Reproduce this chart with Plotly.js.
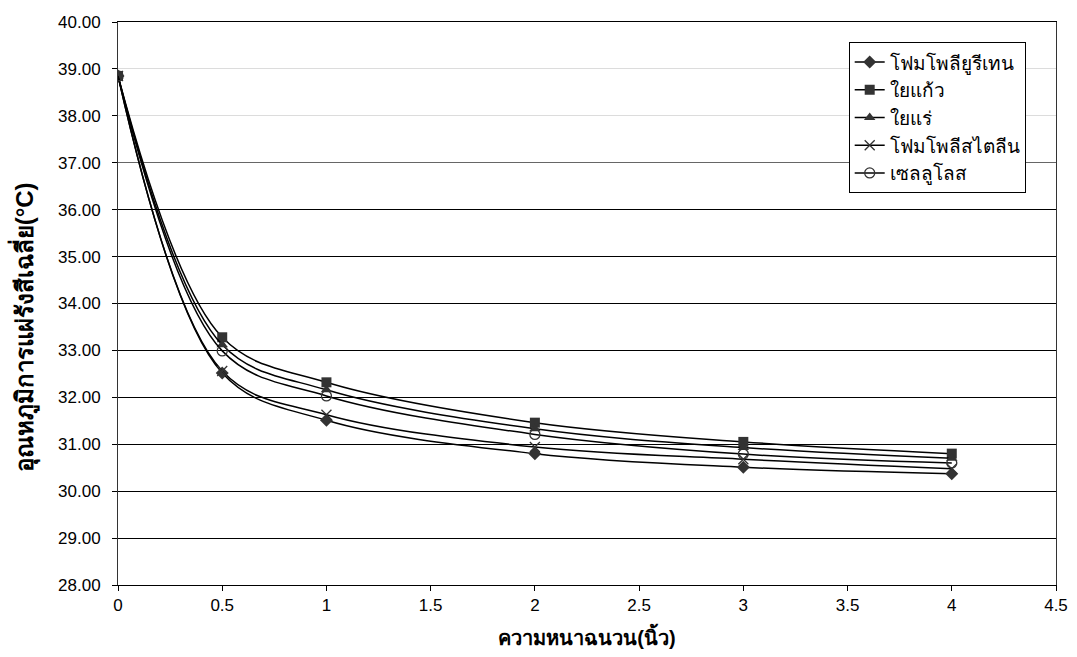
<!DOCTYPE html>
<html>
<head>
<meta charset="utf-8">
<script src="https://cdn.plot.ly/plotly-3.0.1.min.js"></script>
<style>html,body{margin:0;padding:0;background:#fff}#chart{width:1077px;height:657px}</style>
</head>
<body>
<div id="chart"></div>
<script>
const thickness = [0, 0.5, 1, 2, 3, 4];
const seriesNames = ["โฟมโพลียูรีเทน", "ใยแก้ว", "ใยแร่", "โฟมโพลีสไตลีน", "เซลลูโลส"];
const polyurethane = [38.85, 32.52, 31.51, 30.80, 30.51, 30.37];
const glassWool    = [38.85, 33.28, 32.32, 31.46, 31.05, 30.80];
const mineralWool  = [38.85, 33.12, 32.16, 31.33, 30.93, 30.70];
const polystyrene  = [38.85, 32.56, 31.63, 30.94, 30.68, 30.48];
const cellulose    = [38.85, 32.99, 32.03, 31.21, 30.79, 30.60];
const yTicks = [28,29,30,31,32,33,34,35,36,37,38,39,40];
const xTicks = [0,0.5,1,1.5,2,2.5,3,3.5,4,4.5];
const darkGridTicks = [29,30,31,32,33,34,35,36];
const midGridTicks = [37];
const xTitle = "ความหนาฉนวน(นิ้ว)";
const yTitle = "อุณหภูมิการแผ่รังสีเฉลี่ย(°C)";

const seriesValues = [polyurethane, glassWool, mineralWool, polystyrene, cellulose];
const symbols = ["diamond", "square", "triangle-up", "x-thin-open", "circle-open"];
const yAxesOf = ["y", "y", "y", "y2", "y3"];

const traces = seriesValues.map((vals, i) => ({
  x: thickness, y: vals, name: seriesNames[i], type: "scatter", mode: "lines+markers",
  yaxis: yAxesOf[i],
  line: {color: "#000", width: 1.5, shape: "spline", smoothing: 1},
  marker: {symbol: symbols[i], size: 10, color: "#333",
           line: {color: "#333", width: (symbols[i] === "x-thin-open" || symbols[i] === "circle-open") ? 1.3 : 0}}
}));

const font = "Liberation Sans, Arial, sans-serif";
const gridAxis = (vals, color) => ({
  overlaying: "y", anchor: "x", side: "left", range: [28, 40], tickvals: vals,
  showticklabels: false, ticks: "", showgrid: true, gridcolor: color, gridwidth: 1,
  zeroline: false, showline: false
});
const layout = {
  width: 1077, height: 657,
  margin: {l: 118, r: 21, t: 22, b: 72},
  paper_bgcolor: "#fff", plot_bgcolor: "#fff",
  font: {family: font, size: 17, color: "#000"},
  showlegend: true,
  legend: {x: 0.779, y: 0.964, xanchor: "left", yanchor: "top", bgcolor: "#fff",
           bordercolor: "#000", borderwidth: 1, font: {size: 19}, tracegroupgap: 0,
           itemwidth: 30, traceorder: "normal"},
  xaxis: {range: [0, 4.5], tickvals: xTicks, ticktext: xTicks.map(String),
          ticks: "outside", ticklen: 5, tickcolor: "#000", showline: true, linecolor: "#000",
          linewidth: 1, mirror: true, showgrid: false, zeroline: false,
          title: {text: "<b>" + xTitle + "</b>", font: {size: 20}, standoff: 16}},
  yaxis: {range: [28, 40], tickvals: yTicks, ticktext: yTicks.map(v => v.toFixed(2)),
          ticks: "outside", ticklen: 5, tickcolor: "#000", showline: true, linecolor: "#333",
          linewidth: 1, mirror: true, showgrid: true, gridcolor: "#dcdcdc", gridwidth: 1,
          zeroline: false, ticklabelstandoff: 8},
  yaxis2: gridAxis(darkGridTicks, "#000"),
  yaxis3: gridAxis(midGridTicks, "#666"),
  annotations: [
    {text: "<b>" + yTitle + "</b>", textangle: -90, xref: "paper", yref: "paper",
     x: -0.1, y: 0.458, xanchor: "center", yanchor: "middle", showarrow: false,
     font: {size: 24}}
  ]
};
Plotly.newPlot("chart", traces, layout, {displayModeBar: false, staticPlot: true});
</script>
</body>
</html>
